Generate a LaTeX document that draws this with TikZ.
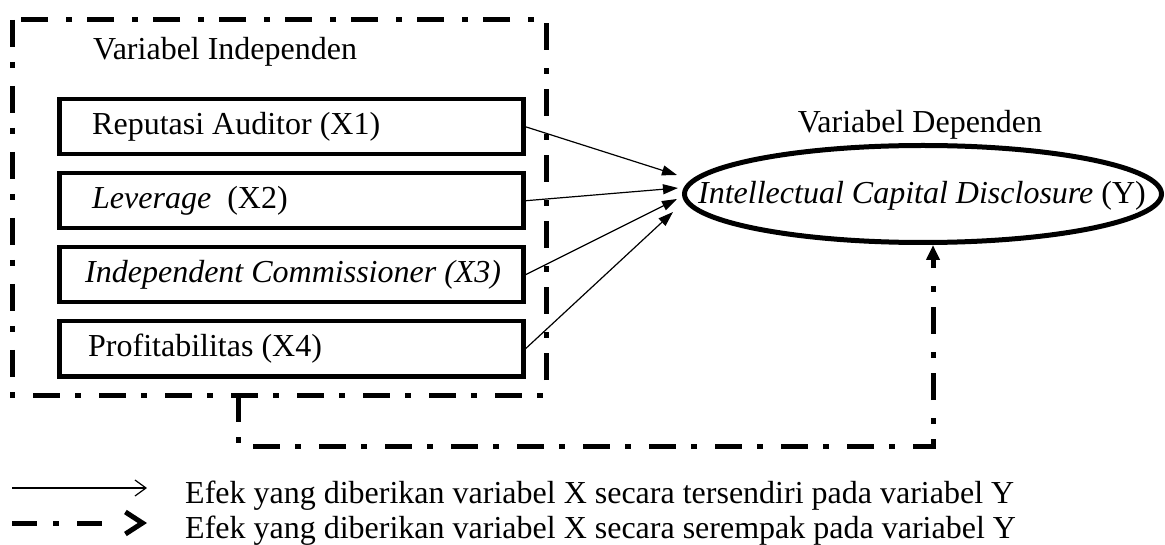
\documentclass[tikz,border=0pt]{standalone}
\usepackage{fontspec}
\setmainfont{Liberation Serif}
\usetikzlibrary{arrows.meta,shapes.geometric}
\begin{document}
\begin{tikzpicture}[x=1pt,y=-1pt,
  every node/.style={font=\fontsize{32}{38}\selectfont},
  dashdot/.style={line width=5pt,dash pattern=on 27pt off 15pt on 6pt off 18pt},
  varbox/.style={draw,line width=4.5pt,minimum width=464pt,minimum height=55pt,anchor=north west,inner sep=0pt},
  boxtext/.style={anchor=west,inner sep=0pt},
  effect/.style={line width=1.2pt,-{Triangle[length=15pt,width=10pt]}},
  legendtext/.style={anchor=base west,inner sep=0pt}]
\useasboundingbox (0,0) rectangle (1165,545);
% outer dash-dot frame
\draw[dashdot] (12,20) rectangle (546,395);
\node[anchor=base west,inner sep=0pt] (indep) at (93,60) {Variabel Independen};
% variable boxes
\node[varbox] (x1) at (57,97) {};
\node[varbox] (x2) at (57,171) {};
\node[varbox] (x3) at (57,245) {};
\node[varbox] (x4) at (57,319) {};
\node[boxtext] at ([xshift=35pt]x1.west) {Reputasi Auditor (X1)};
\node[boxtext] at ([xshift=35pt]x2.west) {\textit{Leverage}\ \ (X2)};
\node[boxtext] at ([xshift=28pt]x3.west) {\textit{Independent Commissioner (X3)}};
\node[boxtext] at ([xshift=31pt]x4.west) {Profitabilitas (X4)};
% dependent
\node (dep) at (920,125) {Variabel Dependen};
\node[draw,ellipse,line width=5pt,minimum width=477pt,minimum height=97pt,inner sep=0pt] (y) at (923,194) {};
\node at (922,196) {\textit{Intellectual Capital Disclosure} (Y)};
% arrows
\coordinate (t1) at (677,175);
\coordinate (t2) at (678,188);
\coordinate (t3) at (677,199);
\coordinate (t4) at (673,212);
\draw[effect] (x1.east) -- (t1);
\draw[effect] (x2.east) -- (t2);
\draw[effect] (x3.east) -- (t3);
\draw[effect] (x4.east) -- (t4);
% simultaneous effect connector
\coordinate (s0) at (238,395);
\coordinate (s1) at (238,446);
\coordinate (s2) at (933,446);
\draw[dashdot,-{Triangle[length=15pt,width=13pt]}] (s0) -- (s1) -- (s2) -- (y.south -| s2);
% legend
\coordinate (l1a) at (12,488);
\coordinate (l1b) at (147,488);
\draw[line width=1.2pt,-{Straight Barb[length=11pt,width=16pt]}] (l1a) -- (l1b);
\node[legendtext] (lt1) at (185,503) {Efek yang diberikan variabel X secara tersendiri pada variabel Y};
\coordinate (l2a) at (12,523);
\coordinate (l2b) at (147,523);
\draw[line width=5pt,dash pattern=on 25pt off 16pt on 6pt off 18pt on 25pt off 60pt,-{Straight Barb[length=17pt,width=22pt]}] (l2a) -- (l2b);
\node[legendtext] (lt2) at (185,538) {Efek yang diberikan variabel X secara serempak pada variabel Y};
\end{tikzpicture}
\end{document}
